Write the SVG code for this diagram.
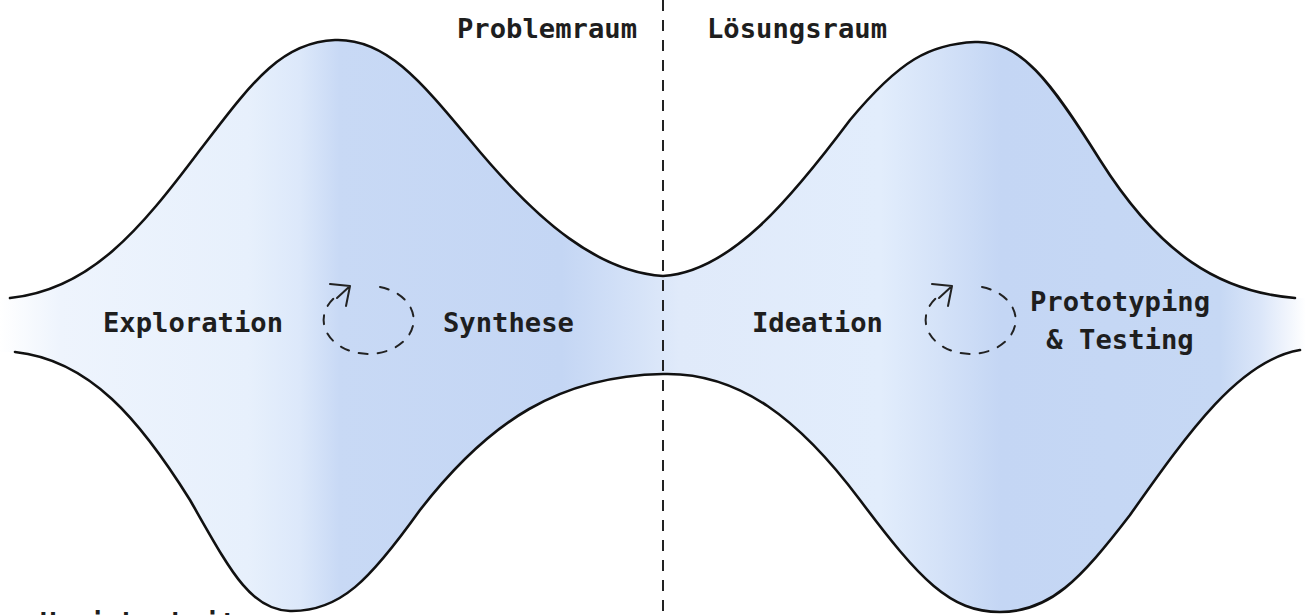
<svg xmlns="http://www.w3.org/2000/svg" width="1306" height="615" viewBox="0 0 1306 615">
<defs>
<linearGradient id="fillGrad" gradientUnits="userSpaceOnUse" x1="0" y1="0" x2="1306" y2="0">
<stop offset="0" stop-color="#ffffff"/>
<stop offset="0.046" stop-color="#eef4fd"/>
<stop offset="0.19" stop-color="#e7f0fc"/>
<stop offset="0.23" stop-color="#dce8fa"/>
<stop offset="0.26" stop-color="#c8d9f5"/>
<stop offset="0.43" stop-color="#c4d6f4"/>
<stop offset="0.49" stop-color="#d6e3f8"/>
<stop offset="0.52" stop-color="#e0eafa"/>
<stop offset="0.674" stop-color="#e2edfc"/>
<stop offset="0.72" stop-color="#d4e2f8"/>
<stop offset="0.766" stop-color="#c4d6f4"/>
<stop offset="0.934" stop-color="#c6d8f4"/>
<stop offset="0.965" stop-color="#dbe6f9"/>
<stop offset="1" stop-color="#ffffff"/>
</linearGradient>
</defs>
<style>
.outline{fill:none;stroke:#111;stroke-width:2.6;stroke-linecap:round}
.divider{fill:none;stroke:#222;stroke-width:2;stroke-dasharray:11 9}
.cycle{fill:none;stroke:#222;stroke-width:2;stroke-dasharray:9 10;stroke-linecap:round}
.arrow{fill:none;stroke:#222;stroke-width:2;stroke-linecap:round;stroke-linejoin:round}
.lbl{font-family:"DejaVu Sans Mono","Liberation Mono",monospace;font-weight:bold;font-size:27.2px;fill:#1e1e1e}
</style>
<rect width="1306" height="615" fill="#ffffff"/>
<g id="funnel">
<path fill="url(#fillGrad)" stroke="none" d="M0,298 L10,298 C90,290 140,230 200,150 C250,85 280,42 335,40 C385,38 420,80 470,140 C540,225 600,272 663,276 C730,272 790,200 850,120 C900,60 930,44 975,42 C1020,40 1050,80 1100,160 C1160,255 1220,292 1295,298 L1306,298 L1306,350 L1300,350 C1240,360 1190,430 1130,515 C1080,580 1050,612 1000,612 C950,612 920,580 860,500 C800,420 740,372 663,374 C560,376 490,420 420,510 C370,580 340,612 290,611 C250,610 230,570 190,500 C140,420 90,360 15,352 L0,352 Z"/>
<path class="outline" d="M10,298 C90,290 140,230 200,150 C250,85 280,42 335,40 C385,38 420,80 470,140 C540,225 600,272 663,276 C730,272 790,200 850,120 C900,60 930,44 975,42 C1020,40 1050,80 1100,160 C1160,255 1220,292 1295,298"/>
<path class="outline" d="M15,352 C90,360 140,420 190,500 C230,570 250,610 290,611 C340,612 370,580 420,510 C490,420 560,376 663,374 C740,372 800,420 860,500 C920,580 950,612 1000,612 C1050,612 1080,580 1130,515 C1190,430 1240,360 1300,350"/>
</g>
<g id="connectors">
<line class="divider" x1="663" y1="0" x2="663" y2="615"/>
</g>
<g id="cycle-left">
<path class="cycle" d="M380,287 A45,34 0 1 1 338,295"/>
<path class="arrow" d="M337,298 L350,286 M330,284 L350,286 L346,306"/>
</g>
<g id="cycle-right">
<path class="cycle" d="M982,287 A45,34 0 1 1 940,295"/>
<path class="arrow" d="M939,298 L952,286 M932,284 L952,286 L948,306"/>
</g>
<g id="label-problemraum"><text class="lbl" x="457" y="38">Problemraum</text></g>
<g id="label-loesungsraum"><text class="lbl" x="707" y="38">Lösungsraum</text></g>
<g id="node-exploration"><text class="lbl" x="103" y="332">Exploration</text></g>
<g id="node-synthese"><text class="lbl" x="443" y="332">Synthese</text></g>
<g id="node-ideation"><text class="lbl" x="752" y="332">Ideation</text></g>
<g id="node-prototyping"><text class="lbl" x="1120" y="311" text-anchor="middle">Prototyping</text><text class="lbl" x="1120" y="349" text-anchor="middle">&amp; Testing</text></g>
<g id="label-unsicherheit"><text class="lbl" x="40" y="632">Unsicherheit</text></g>
</svg>
